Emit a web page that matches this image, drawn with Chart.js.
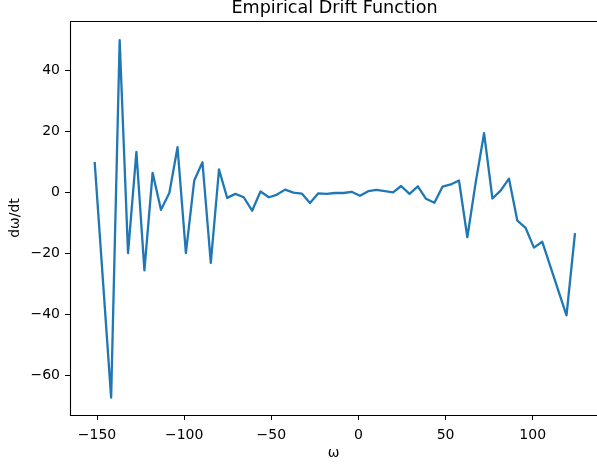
<!DOCTYPE html>
<html>
<head>
<meta charset="utf-8">
<script src="https://cdn.jsdelivr.net/npm/chart.js@4/dist/chart.umd.min.js"></script>
<style>
html,body{margin:0;padding:0;background:#fff;}
canvas{display:block;}
</style>
</head>
<body>
<canvas id="c" width="597" height="465"></canvas>
<script>
const omega = [-151.3, -141.9, -137.0, -132.2, -127.4, -122.8, -118.1, -113.3, -108.5, -103.8,
  -99.0, -94.2, -89.5, -84.7, -80.0, -75.3, -70.6, -65.8, -61.0, -56.2,
  -51.4, -46.9, -42.1, -37.3, -32.5, -27.8, -23.0, -18.2, -13.5, -8.7,
  -3.9, 0.9, 5.6, 10.4, 15.2, 19.9, 24.5, 29.3, 34.1, 38.8,
  43.6, 48.3, 53.0, 57.7, 62.5, 67.3, 72.1, 76.9, 81.6, 86.4,
  91.2, 95.9, 100.7, 105.5, 119.4, 124.2];
const drift = [9.7, -67.2, 50.0, -19.8, 13.4, -25.5, 6.5, -5.6, -0.1, 14.9,
  -19.8, 4.0, 10.0, -23.0, 7.6, -1.7, -0.4, -1.5, -5.9, 0.4,
  -1.5, -0.7, 1.0, 0.0, -0.3, -3.4, -0.2, -0.4, -0.1, -0.1,
  0.3, -1.0, 0.5, 0.9, 0.5, 0.1, 2.2, -0.4, 2.1, -2.0,
  -3.3, 2.0, 2.7, 4.0, -14.6, 3.4, 19.5, -1.9, 0.7, 4.6,
  -9.2, -11.5, -18.0, -16.1, -40.2, -13.6];
const xTicks = [-150, -100, -50, 0, 50, 100];
const yTicks = [-60, -40, -20, 0, 20, 40];
const chartTitle = 'Empirical Drift Function';

const fmt = v => (v < 0 ? '\u2212' + Math.abs(v) : String(v));
const FONT = "'DejaVu Sans', sans-serif";

const frame = {
  id: 'frame',
  afterDatasetsDraw(chart) {
    const a = chart.chartArea, ctx = chart.ctx;
    ctx.save();
    ctx.strokeStyle = '#000';
    ctx.lineWidth = 1.1;
    ctx.beginPath();
    ctx.moveTo(a.right + 2, Math.round(a.top) + 0.5);
    ctx.lineTo(Math.round(a.left) + 0.5, Math.round(a.top) + 0.5);
    ctx.lineTo(Math.round(a.left) + 0.5, Math.round(a.bottom) + 0.5);
    ctx.lineTo(a.right + 2, Math.round(a.bottom) + 0.5);
    ctx.stroke();
    ctx.fillStyle = '#000';
    ctx.font = '17.6px ' + FONT;
    ctx.textAlign = 'center';
    ctx.textBaseline = 'alphabetic';
    ctx.fillText(chartTitle, (a.left + a.right + 2) / 2, 13);
    ctx.restore();
  }
};

new Chart(document.getElementById('c'), {
  type: 'line',
  data: {
    datasets: [{
      data: omega.map((x, i) => ({x: x, y: drift[i]})),
      borderColor: '#1f77b4',
      borderWidth: 2.3,
      borderJoinStyle: 'round',
      borderCapStyle: 'square',
      pointRadius: 0,
      tension: 0,
      fill: false
    }]
  },
  options: {
    responsive: false,
    animation: false,
    layout: {padding: {left: 0, right: 0, top: 21, bottom: 0}},
    plugins: {
      legend: {display: false},
      tooltip: {enabled: false},
      title: {display: false}
    },
    scales: {
      x: {
        type: 'linear',
        min: -165.5,
        max: 136.9,
        afterBuildTicks: s => { s.ticks = xTicks.map(v => ({value: v})); },
        afterFit: s => { s.height = 50; },
        grid: {display: true, drawOnChartArea: false, drawTicks: true, tickLength: 5, color: '#000', lineWidth: 1},
        border: {display: false},
        ticks: {color: '#000', font: {family: FONT, size: 14}, padding: 7, maxRotation: 0, autoSkip: false, callback: v => fmt(v)},
        title: {display: true, text: 'ω', color: '#000', font: {family: FONT, size: 14}, padding: {top: 0, bottom: 3}}
      },
      y: {
        type: 'linear',
        min: -72.9,
        max: 56.3,
        afterBuildTicks: s => { s.ticks = yTicks.map(v => ({value: v})); },
        afterFit: s => { s.width = 70; },
        grid: {display: true, drawOnChartArea: false, drawTicks: true, tickLength: 5, color: '#000', lineWidth: 1},
        border: {display: false},
        ticks: {color: '#000', font: {family: FONT, size: 14}, padding: 5, autoSkip: false, callback: v => fmt(v)},
        title: {display: true, text: 'dω/dt', color: '#000', font: {family: FONT, size: 14}, padding: {top: 7, bottom: 0}}
      }
    }
  },
  plugins: [frame]
});
</script>
</body>
</html>
